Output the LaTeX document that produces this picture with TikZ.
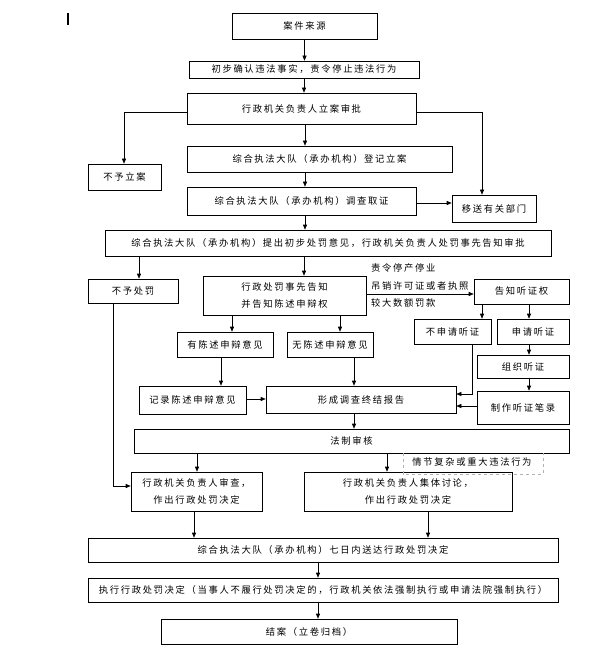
\documentclass[tikz,border=0pt]{standalone}
\usepackage{fontspec}
\newfontfamily\cjk[LetterSpace=18]{Noto Sans CJK SC}
\usetikzlibrary{arrows.meta}
\begin{document}
\begin{tikzpicture}[x=1pt,y=-1pt,
  every node/.style={font=\cjk\fontsize{9.3}{17}\selectfont},
  box/.style={draw,line width=0.6pt,inner sep=0pt,align=center},
  arr/.style={-{Triangle[length=5pt,width=4pt]},line width=0.6pt},
  ln/.style={line width=0.6pt}]
\useasboundingbox (0,0) rectangle (593,668);
\fill[white] (0,0) rectangle (593,668);
\draw[line width=1.6pt] (68,13) -- (68,25);
\node[box,minimum width=145pt,minimum height=26pt] (src) at (304.5,26) {案件来源};
\node[box,minimum width=230pt,minimum height=17pt] (confirm) at (304,69.5) {初步确认违法事实，责令停止违法行为};
\node[box,minimum width=229pt,minimum height=31pt] (approve) at (301.5,108.5) {行政机关负责人立案审批};
\node[box,minimum width=265pt,minimum height=26pt] (register) at (319.5,159) {综合执法大队（承办机构）登记立案};
\node[box,minimum width=73pt,minimum height=26pt] (nocase) at (124.5,177) {不予立案};
\node[box,minimum width=229pt,minimum height=28pt] (invest) at (301.5,201) {综合执法大队（承办机构）调查取证};
\node[box,minimum width=84pt,minimum height=27pt] (transfer) at (494,208.5) {移送有关部门};
\node[box,minimum width=446pt,minimum height=26pt] (propose) at (328,243) {综合执法大队（承办机构）提出初步处罚意见，行政机关负责人处罚事先告知审批};
\node[box,minimum width=90pt,minimum height=24pt] (nopen) at (133,291) {不予处罚};
\node[box,minimum width=163pt,minimum height=39pt] (notify) at (284.5,295.5) {行政处罚事先告知\\并告知陈述申辩权};
\node[box,minimum width=95pt,minimum height=25pt] (hright) at (521.5,291.5) {告知听证权};
\node[box,minimum width=77pt,minimum height=25pt] (noapply) at (452.5,331.5) {不申请听证};
\node[box,minimum width=72pt,minimum height=25pt] (apply) at (533,331.5) {申请听证};
\node[box,minimum width=92pt,minimum height=23pt] (organize) at (523,366.5) {组织听证};
\node[box,minimum width=92pt,minimum height=33pt] (hrecord) at (523,407.5) {制作听证笔录};
\node[box,minimum width=96pt,minimum height=25pt] (hasop) at (225,344.5) {有陈述申辩意见};
\node[box,minimum width=86pt,minimum height=25pt] (noop) at (330,344.5) {无陈述申辩意见};
\node[box,minimum width=107pt,minimum height=28pt] (recop) at (192.5,400) {记录陈述申辩意见};
\node[box,minimum width=190pt,minimum height=27pt] (report) at (361,399.5) {形成调查终结报告};
\node[box,minimum width=435pt,minimum height=24pt] (legal) at (351.5,441) {法制审核};
\node[box,minimum width=131pt,minimum height=39pt] (review) at (196.5,491.5) {行政机关负责人审查，\\作出行政处罚决定};
\node[box,minimum width=208pt,minimum height=39pt] (collect) at (408,491.5) {行政机关负责人集体讨论，\\作出行政处罚决定};
\node[box,minimum width=470pt,minimum height=24pt] (deliver) at (323,550) {综合执法大队（承办机构）七日内送达行政处罚决定};
\node[box,minimum width=470pt,minimum height=24pt] (execute) at (323,590) {执行行政处罚决定（当事人不履行处罚决定的，行政机关依法强制执行或申请法院强制执行）};
\node[box,minimum width=296pt,minimum height=25pt] (close) at (309,631.5) {结案（立卷归档）};
% labels
\node[anchor=west,inner sep=0pt] (lab1) at (371,268) {责令停产停业};
\node[anchor=west,inner sep=0pt] (lab2) at (371,286) {吊销许可证或者执照};
\node[anchor=west,inner sep=0pt] (lab3) at (371,303) {较大数额罚款};
\draw[gray!60,dashed,line width=0.6pt] (legal.south -| 403,0) coordinate (d1) -- (403,474) -- (543,474) -- (543,453);
\node[inner sep=0pt] (lab4) at (472,462) {情节复杂或重大违法行为};
% connectors
\draw[arr] (src.south -| 304.5,0) -- (confirm.north -| 304.5,0);
\draw[arr] (confirm.south -| 304,0) -- (approve.north -| 304,0);
\draw[arr] (approve.south -| 305,0) -- (register.north -| 305,0);
\draw[arr] (approve.west |- 0,112) -| (nocase.north -| 124,0);
\draw[arr] (approve.east |- 0,112) -| (transfer.north -| 482,0);
\draw[arr] (register.south -| 305,0) -- (invest.north -| 305,0);
\draw[arr] (invest.east |- 0,203) -- (transfer.west |- 0,203);
\draw[arr] (invest.south -| 305,0) -- (propose.north -| 305,0);
\draw[arr] (propose.south -| 139,0) -- (nopen.north -| 139,0);
\draw[arr] (propose.south -| 304,0) -- (notify.north -| 304,0);
\draw[arr] (notify.east |- 0,294) -- (hright.west |- 0,294);
\draw[arr] (hright.south -| 482,0) -- (noapply.north -| 482,0);
\draw[arr] (hright.south -| 529,0) -- (apply.north -| 529,0);
\draw[arr] (apply.south -| 529,0) -- (organize.north -| 529,0);
\draw[arr] (organize.south -| 529,0) -- (hrecord.north -| 529,0);
\draw[arr] (notify.south -| 232,0) -- (hasop.north -| 232,0);
\draw[arr] (notify.south -| 340,0) -- (noop.north -| 340,0);
\draw[arr] (hasop.south -| 221,0) -- (recop.north -| 221,0);
\draw[arr] (noop.south -| 354,0) -- (report.north -| 354,0);
\draw[arr] (recop.east |- 0,399) -- (report.west |- 0,399);
\draw[arr] (noapply.south -| 472,0) |- (report.east |- 0,394);
\draw[arr] (hrecord.west |- 0,406) -- (report.east |- 0,406);
\draw[arr] (report.south -| 354,0) -- (legal.north -| 354,0);
\draw[arr] (nopen.south -| 113,0) |- (review.west |- 0,486);
\draw[arr] (legal.south -| 197,0) -- (review.north -| 197,0);
\draw[arr] (legal.south -| 387,0) -- (collect.north -| 387,0);
\draw[arr] (review.south -| 194,0) -- (deliver.north -| 194,0);
\draw[arr] (collect.south -| 428,0) -- (deliver.north -| 428,0);
\draw[arr] (deliver.south -| 318,0) -- (execute.north -| 318,0);
\draw[arr] (execute.south -| 318,0) -- (close.north -| 318,0);
\end{tikzpicture}
\end{document}
